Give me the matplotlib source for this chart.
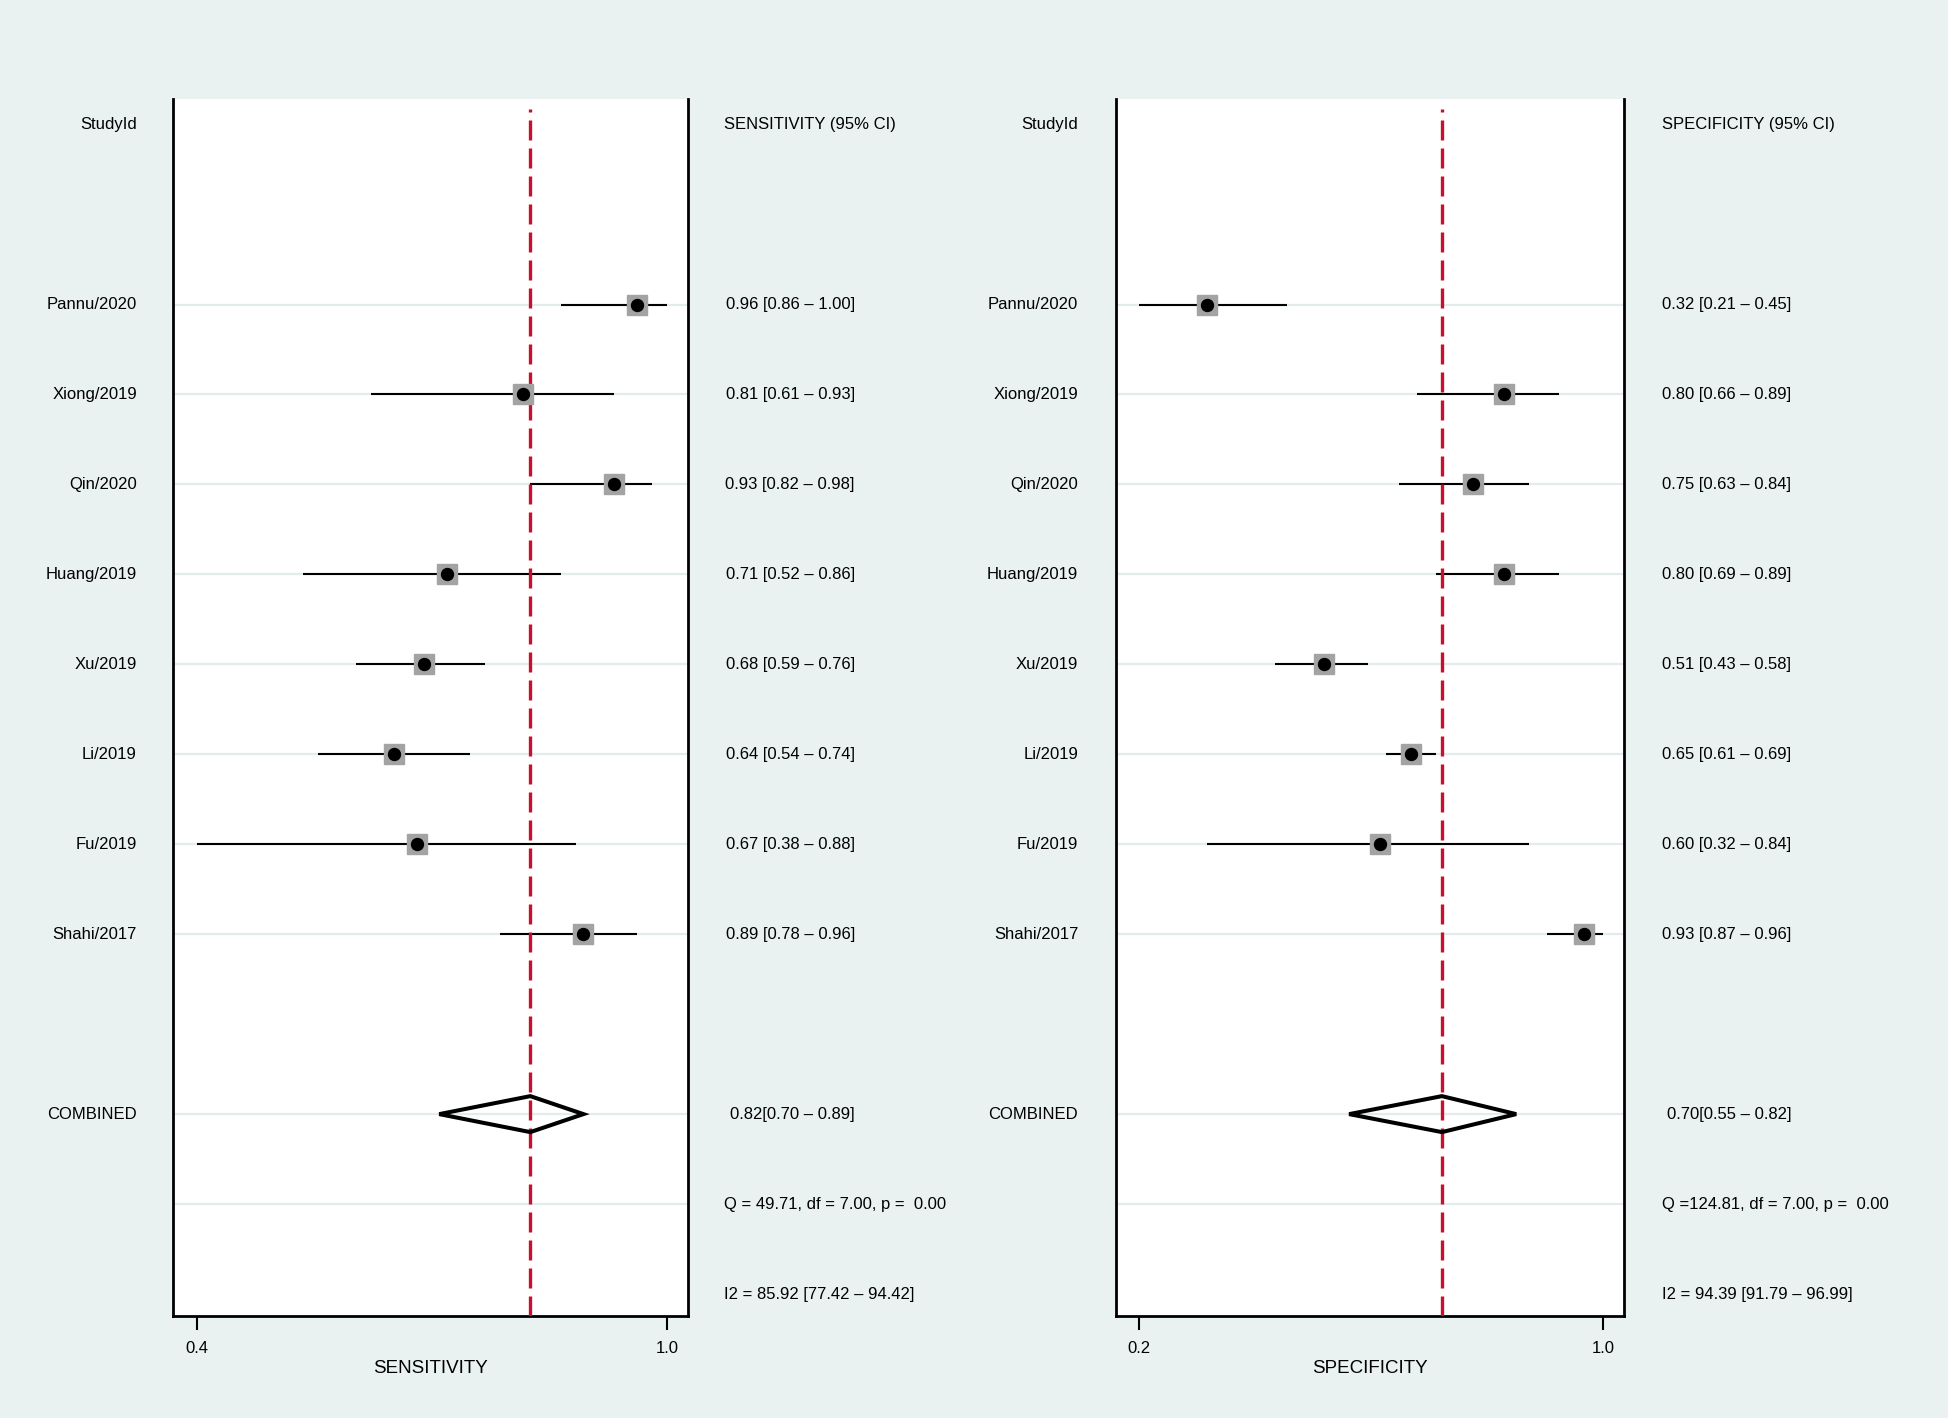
#Libraries
import numpy as np
import matplotlib
matplotlib.use("Agg")
import matplotlib.pyplot as plt
from matplotlib.transforms import blended_transform_factory
from matplotlib.patches import Polygon

plt.rcParams['font.family'] = ['Liberation Sans', 'DejaVu Sans']

#Data
studies = ["Pannu/2020", "Xiong/2019", "Qin/2020", "Huang/2019",
           "Xu/2019", "Li/2019", "Fu/2019", "Shahi/2017"]
sens = [0.96, 0.81, 0.93, 0.71, 0.68, 0.64, 0.67, 0.89]
sens_lo = [0.86, 0.61, 0.82, 0.52, 0.59, 0.54, 0.38, 0.78]
sens_hi = [1.00, 0.93, 0.98, 0.86, 0.76, 0.74, 0.88, 0.96]
spec = [0.32, 0.80, 0.75, 0.80, 0.51, 0.65, 0.60, 0.93]
spec_lo = [0.21, 0.66, 0.63, 0.69, 0.43, 0.61, 0.32, 0.87]
spec_hi = [0.45, 0.89, 0.84, 0.89, 0.58, 0.69, 0.84, 0.96]
sens_comb = [0.82, 0.70, 0.89]
spec_comb = [0.70, 0.55, 0.82]
sens_q = "Q = 49.71, df = 7.00, p =  0.00"
spec_q = "Q =124.81, df = 7.00, p =  0.00"
sens_i2 = "I2 = 85.92 [77.42 \u2013 94.42]"
spec_i2 = "I2 = 94.39 [91.79 \u2013 96.99]"

BG = "#e9f1f1"
RED = "#c8102e"
GRID = "#e3ecec"
FS = 12

fig = plt.figure(figsize=(19.48, 14.18), dpi=100, facecolor=BG)

def panel(rect, est, lo, hi, comb, qtxt, i2txt, name, lab_x, val_l, val_r):
	ax = fig.add_axes(rect)
	ax.set_facecolor("white")
	n = len(est)
	rows = np.arange(n)
	y_comb = n + 1
	y_q = n + 2
	y_i2 = n + 3
	y_head = -2
	#light row lines
	for y in list(rows) + [y_comb, y_q]:
		ax.axhline(y, color=GRID, lw=1.6, zorder=1)
	#confidence intervals
	ax.hlines(rows, lo, hi, color="black", lw=1.5, zorder=2)
	#pooled line
	ax.axvline(comb[0], ymax=0.992, color=RED, lw=2.4, dashes=(6.0, 2.4), zorder=3)
	ax.plot(est, rows, 's', color="#a3a3a3", ms=13.7, mec="#a3a3a3", zorder=4)
	ax.plot(est, rows, 'o', color="black", ms=8.6, zorder=5)
	#diamond
	h = 0.2
	d = Polygon([(comb[1], y_comb), (comb[0], y_comb - h), (comb[2], y_comb), (comb[0], y_comb + h)],
		closed=True, fill=False, ec="black", lw=2.9, zorder=4, joinstyle="miter")
	ax.add_patch(d)
	#axes
	xmin, xmax = min(lo), max(hi)
	rng = xmax - xmin
	ax.set_xlim(xmin - 0.05 * rng, xmax + 0.045 * rng)
	ax.set_ylim(y_i2 + 0.24, y_head - 0.28)
	ax.set_xticks([xmin, xmax])
	ax.set_xticklabels(["%0.1f" % xmin, "%0.1f" % xmax], fontsize=FS)
	ax.set_yticks([])
	ax.tick_params(axis='x', direction='out', length=10, width=1.5, pad=8)
	ax.set_xlabel(name, fontsize=13.5, labelpad=3)
	for s in ["left", "right", "bottom"]:
		ax.spines[s].set_linewidth(2)
	ax.spines["top"].set_visible(False)
	#text columns
	tr = blended_transform_factory(fig.transFigure, ax.transData)
	ax.text(lab_x, y_head, "StudyId", transform=tr, ha="right", va="center", fontsize=FS)
	ax.text(val_l, y_head, name + " (95% CI)", transform=tr, ha="left", va="center", fontsize=FS)
	for i in range(n):
		ax.text(lab_x, i, studies[i], transform=tr, ha="right", va="center", fontsize=FS)
		ax.text(val_r, i, "%0.2f [%0.2f \u2013 %0.2f]" % (est[i], lo[i], hi[i]),
			transform=tr, ha="right", va="center", fontsize=FS)
	ax.text(lab_x, y_comb, "COMBINED", transform=tr, ha="right", va="center", fontsize=FS)
	ax.text(val_r, y_comb, "%0.2f[%0.2f \u2013 %0.2f]" % tuple(comb),
		transform=tr, ha="right", va="center", fontsize=FS)
	ax.text(val_l, y_q, qtxt, transform=tr, ha="left", va="center", fontsize=FS)
	ax.text(val_l, y_i2, i2txt, transform=tr, ha="left", va="center", fontsize=FS)
	return ax

panel([0.0888, 0.0722, 0.2644, 0.8577], sens, sens_lo, sens_hi, sens_comb,
	sens_q, sens_i2, "SENSITIVITY", 0.0703, 0.3718, 0.4388)
panel([0.5727, 0.0722, 0.2608, 0.8577], spec, spec_lo, spec_hi, spec_comb,
	spec_q, spec_i2, "SPECIFICITY", 0.5535, 0.8533, 0.9196)

fig.savefig("out.png", dpi=100, facecolor=BG)
